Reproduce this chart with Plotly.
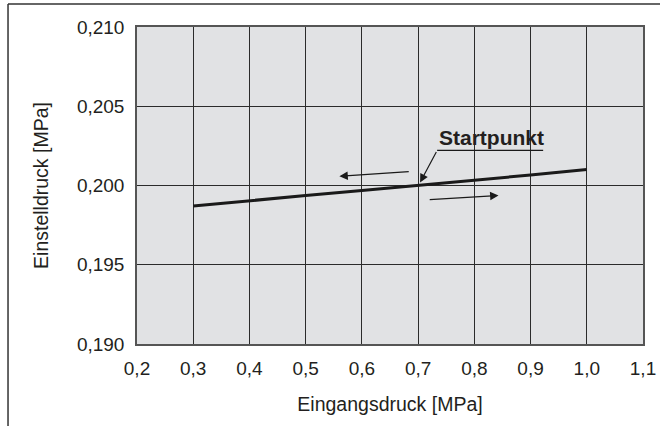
import plotly.graph_objects as go

# Data
eingangsdruck = [0.3, 0.4, 0.5, 0.6, 0.7, 0.8, 0.9, 1.0]
einstelldruck = [0.19870, 0.19905, 0.19937, 0.19968, 0.20000, 0.20032, 0.20066, 0.20101]
x_ticks = [0.2, 0.3, 0.4, 0.5, 0.6, 0.7, 0.8, 0.9, 1.0, 1.1]
y_ticks = [0.190, 0.195, 0.200, 0.205, 0.210]
x_ticklabels = ["0,2", "0,3", "0,4", "0,5", "0,6", "0,7", "0,8", "0,9", "1,0", "1,1"]
y_ticklabels = ["0,190", "0,195", "0,200", "0,205", "0,210"]

# direction arrows (tail -> head) in data units
arrow_left = dict(tail=(0.686, 0.20088), head=(0.560, 0.20058))
arrow_right = dict(tail=(0.718, 0.19910), head=(0.843, 0.19937))
start_label = dict(text="Startpunkt", x=0.830, y=0.20305)
start_underline = dict(x0=0.7338, x1=0.9224, y=0.20221)
start_arrow_head = (0.7035, 0.20019)

FONT = "Liberation Sans, Arial, Helvetica, sans-serif"
TXT = "#231f20"

fig = go.Figure()
fig.add_trace(go.Scatter(
    x=eingangsdruck, y=einstelldruck, mode="lines",
    line=dict(color="#1a1a1a", width=3), showlegend=False, hoverinfo="skip"))

anns = []
for a in (arrow_left, arrow_right):
    anns.append(dict(x=a["head"][0], y=a["head"][1], ax=a["tail"][0], ay=a["tail"][1],
                     xref="x", yref="y", axref="x", ayref="y", text="", showarrow=True,
                     arrowhead=2, arrowsize=1.4, arrowwidth=1.2, arrowcolor="#1a1a1a"))
anns.append(dict(x=start_arrow_head[0], y=start_arrow_head[1],
                 ax=start_underline["x0"], ay=start_underline["y"],
                 xref="x", yref="y", axref="x", ayref="y", text="", showarrow=True,
                 arrowhead=2, arrowsize=1.4, arrowwidth=1.2, arrowcolor="#1a1a1a"))
anns.append(dict(x=start_label["x"], y=start_label["y"], xref="x", yref="y",
                 text="<b>" + start_label["text"] + "</b>", showarrow=False,
                 font=dict(family=FONT, size=21, color=TXT)))

shapes = [
    dict(type="line", xref="x", yref="y", x0=start_underline["x0"], x1=start_underline["x1"],
         y0=start_underline["y"], y1=start_underline["y"], line=dict(color="#1a1a1a", width=1.2)),
    # outer frame (left and top)
    dict(type="line", xref="paper", yref="paper", x0=-0.2549, x1=-0.2549, y0=-0.27, y1=1.0726,
         line=dict(color="#333333", width=1.5)),
    dict(type="line", xref="paper", yref="paper", x0=-0.2549, x1=1.04, y0=1.0726, y1=1.0726,
         line=dict(color="#333333", width=1.5)),
]

fig.update_layout(
    width=660, height=426,
    margin=dict(l=137, r=17, t=27, b=82),
    paper_bgcolor="white", plot_bgcolor="#e1e2e4",
    font=dict(family=FONT, size=19, color=TXT),
    annotations=anns, shapes=shapes, showlegend=False,
)
fig.update_xaxes(
    range=[0.2, 1.1], tickvals=x_ticks, ticktext=x_ticklabels, automargin=False,
    showgrid=True, gridcolor="#2b2b2b", gridwidth=1.3, zeroline=False,
    showline=True, linecolor="#555555", linewidth=1.5, mirror=True,
    ticks="", ticklabelstandoff=6,
    title=dict(text="Eingangsdruck [MPa]", font=dict(size=19.5), standoff=20),
)
fig.update_yaxes(
    range=[0.190, 0.210], tickvals=y_ticks, ticktext=y_ticklabels, automargin=False,
    showgrid=True, gridcolor="#2b2b2b", gridwidth=1.3, zeroline=False,
    showline=True, linecolor="#555555", linewidth=1.5, mirror=True,
    ticks="", ticklabelstandoff=7,
    title=dict(text="Einstelldruck [MPa]", font=dict(size=19.5), standoff=23),
)

fig.write_html("out.html", config={"displayModeBar": False},
               post_script="document.body.style.margin='0';document.body.style.padding='0';")
